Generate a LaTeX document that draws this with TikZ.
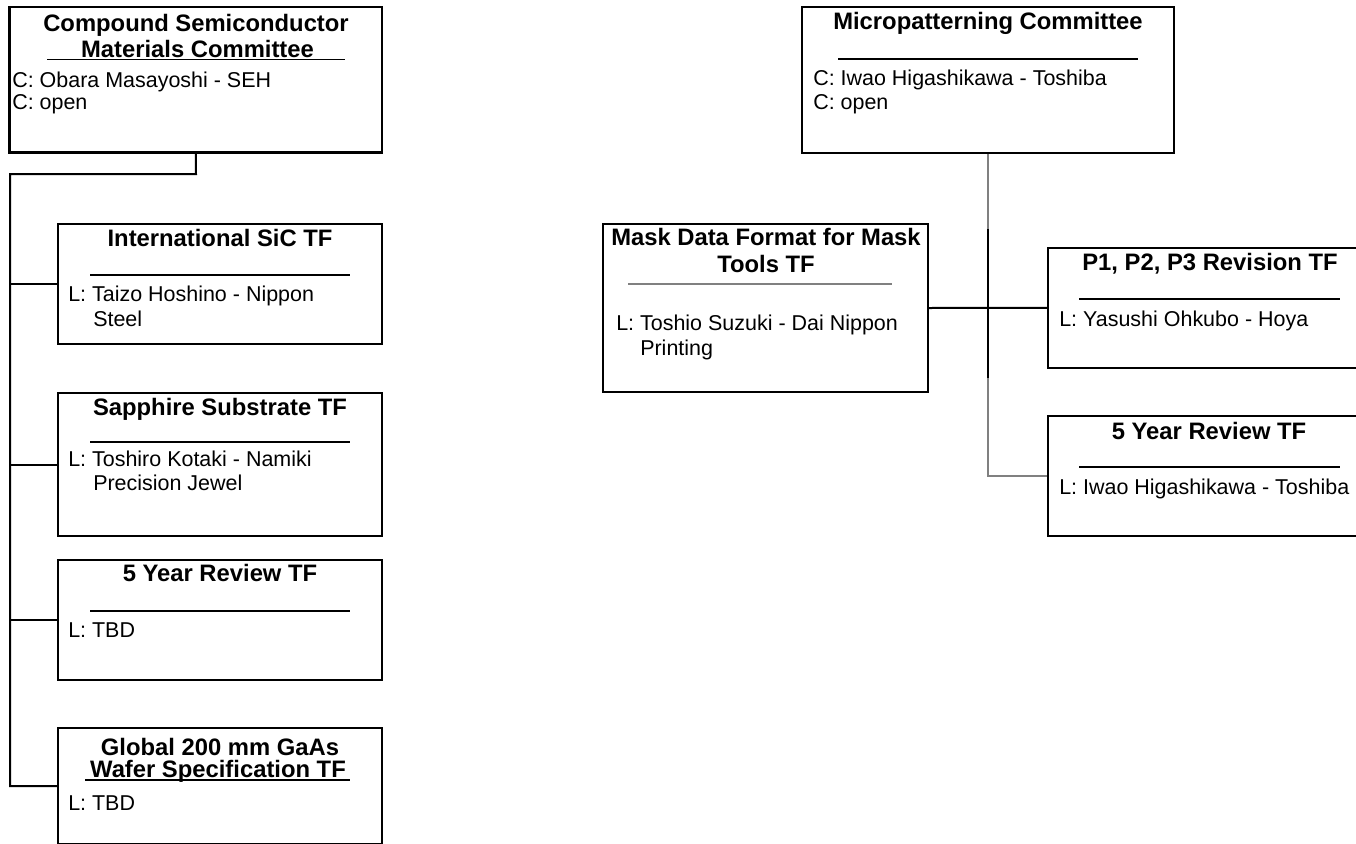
\documentclass[tikz,border=0pt]{standalone}
\usepackage{fontspec}
\setmainfont{Liberation Sans}
\definecolor{linegray}{HTML}{808080}
\newcommand{\ttlfont}{\fontsize{17.85}{20}\selectfont\bfseries}
\newcommand{\txtfont}{\fontsize{16.1}{19}\selectfont}
\tikzset{
  cbox/.style={draw, line width=1.9pt, rectangle, inner sep=0pt},
  tbox/.style={draw, line width=1.5pt, rectangle, inner sep=0pt},
  ttl/.style={font=\ttlfont, inner sep=0pt, anchor=base},
  txt/.style={font=\txtfont, inner sep=0pt, anchor=base west},
  conn/.style={line width=1.5pt, line cap=rect},
  gconn/.style={line width=1.2pt, draw=linegray},
  sepline/.style={line width=1.3pt},
  gsepline/.style={line width=1.3pt, draw=linegray},
}
\begin{document}
\begin{tikzpicture}[x=0.75pt, y=-0.75pt]
\useasboundingbox (0,0) rectangle (1356,843);
\clip (0,0) rectangle (1356,843);

% ---------- boxes ----------
\node[cbox, minimum width=372.5*0.75pt, minimum height=145.5*0.75pt] (csm) at (195.75,79.75) {};
\node[cbox, minimum width=372*0.75pt, minimum height=146*0.75pt] (mpc) at (988,80) {};
\node[tbox, minimum width=324*0.75pt, minimum height=120*0.75pt] (sic) at (220,284) {};
\node[tbox, minimum width=324*0.75pt, minimum height=143*0.75pt] (sap) at (220,464.5) {};
\node[tbox, minimum width=324*0.75pt, minimum height=120*0.75pt] (fyl) at (220,620) {};
\node[tbox, minimum width=324*0.75pt, minimum height=116*0.75pt] (gga) at (220,786) {};
\node[tbox, minimum width=325*0.75pt, minimum height=168*0.75pt] (mask) at (765.5,308) {};
\node[tbox, minimum width=324*0.75pt, minimum height=120.5*0.75pt] (p1) at (1210,307.75) {};
\node[tbox, minimum width=324*0.75pt, minimum height=120*0.75pt] (fyr) at (1210,476) {};

% ---------- connectors (left) ----------
\coordinate (bend) at (196,174);
\coordinate (bustop) at (10,174);
\draw[conn] (csm.south) -- (bend) -- (bustop) |- (gga.west);
\draw[conn] (bustop) |- (sic.west);
\draw[conn] (bustop) |- (sap.west);
\draw[conn] (bustop) |- (fyl.west);

% ---------- connectors (right) ----------
\draw[gconn] (mpc.south) |- (fyr.west);
\coordinate (bt) at (988,229);
\coordinate (bb) at (988,378);
\draw[conn, line cap=butt] (bt) -- (bb);
\draw[conn, line cap=butt] (mask.east) -- (p1.west);

% ---------- texts: Compound Semiconductor ----------
\node[ttl] (csmt1) at (196,31.7) {Compound Semiconductor};
\node[ttl] (csmt2) at (197.5,57.3) {Materials Committee};
\draw[sepline] (47,59.5) -- (345,59.5);
\node[txt] (csmc1) at (12,87.3) {C: Obara Masayoshi - SEH};
\node[txt] (csmc2) at (12,109.5) {C: open};

% ---------- Micropatterning ----------
\node[ttl] (mpct) at (988,29) {Micropatterning Committee};
\draw[sepline] (838,59) -- (1138,59);
\node[txt] (mpcc1) at (813,85) {C: Iwao Higashikawa - Toshiba};
\node[txt] (mpcc2) at (813,109.5) {C: open};

% ---------- International SiC ----------
\node[ttl] (sict) at (220,246.7) {International SiC TF};
\draw[sepline] (90,275) -- (350,275);
\node[txt] (sicl1) at (68,301.7) {L: Taizo Hoshino - Nippon};
\node[txt] (sicl2) at (93,326) {Steel};

% ---------- Sapphire ----------
\node[ttl] (sapt) at (220,415) {Sapphire Substrate TF};
\draw[sepline] (90,442) -- (350,442);
\node[txt] (sapl1) at (68,466.7) {L: Toshiro Kotaki - Namiki};
\node[txt] (sapl2) at (93,490.7) {Precision Jewel};

% ---------- 5 Year Review (left) ----------
\node[ttl] (fylt) at (220,581.7) {5 Year Review TF};
\draw[sepline] (90,611) -- (350,611);
\node[txt] (fyll) at (68,637) {L: TBD};

% ---------- Global 200 mm GaAs ----------
\node[ttl] (ggat1) at (220,755) {Global 200 mm GaAs};
\node[ttl] (ggat2) at (218,777.5) {Wafer Specification TF};
\draw[sepline] (85,779.8) -- (350,779.8);
\node[txt] (ggal) at (68,810.7) {L: TBD};

% ---------- Mask Data Format ----------
\node[ttl] (maskt1) at (766,245.7) {Mask Data Format for Mask};
\node[ttl] (maskt2) at (766,272.7) {Tools TF};
\draw[gsepline] (628,284) -- (892,284);
\node[txt] (maskl1) at (616,330.3) {L: Toshio Suzuki - Dai Nippon};
\node[txt] (maskl2) at (640,355) {Printing};

% ---------- P1, P2, P3 ----------
\node[ttl] (p1t) at (1210,270.7) {P1, P2, P3 Revision TF};
\draw[sepline] (1079,299) -- (1340,299);
\node[txt] (p1l) at (1059,326) {L: Yasushi Ohkubo - Hoya};

% ---------- 5 Year Review (right) ----------
\node[ttl] (fyrt) at (1209,439) {5 Year Review TF};
\draw[sepline] (1079,467) -- (1340,467);
\node[txt] (fyrl) at (1059,494) {L: Iwao Higashikawa - Toshiba};
\end{tikzpicture}
\end{document}
